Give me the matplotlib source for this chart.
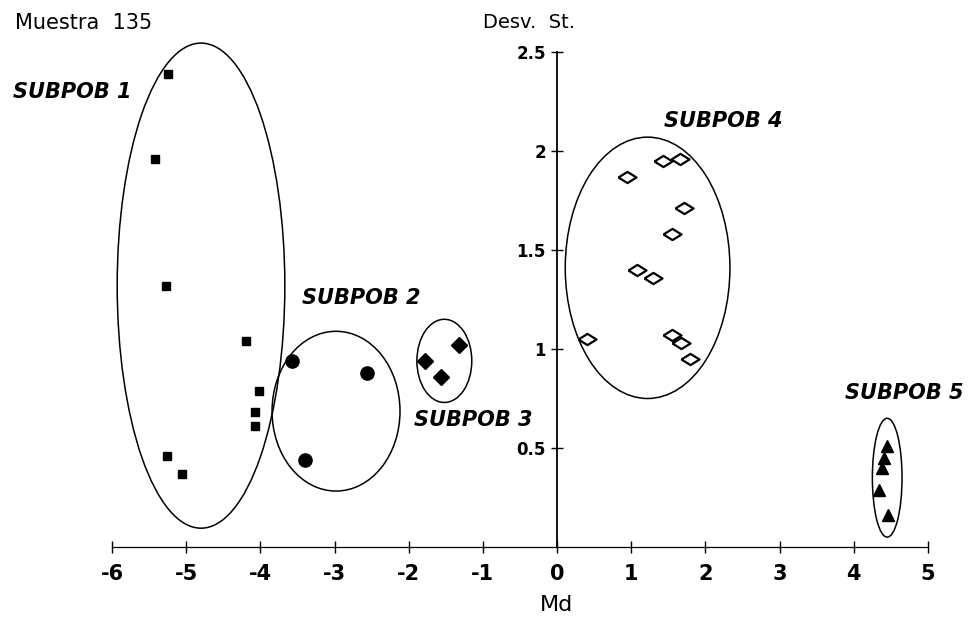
import matplotlib
matplotlib.use("Agg")
import matplotlib.pyplot as plt
from matplotlib.patches import Ellipse

# ---- data (Md, Desv. St.) ----
sub1_md = [-5.24, -5.42, -5.27, -4.20, -4.02, -4.07, -4.07, -5.26, -5.05]
sub1_sd = [2.39, 1.96, 1.32, 1.04, 0.79, 0.68, 0.61, 0.46, 0.37]

sub2_md = [-3.57, -2.56, -3.40]
sub2_sd = [0.94, 0.88, 0.44]

sub3_md = [-1.78, -1.32, -1.56]
sub3_sd = [0.94, 1.02, 0.86]

sub4_md = [0.94, 1.43, 1.66, 1.71, 1.55, 1.08, 1.29, 0.40, 1.55, 1.67, 1.79]
sub4_sd = [1.87, 1.95, 1.96, 1.71, 1.58, 1.40, 1.36, 1.05, 1.07, 1.03, 0.95]

sub5_md = [4.45, 4.41, 4.38, 4.34, 4.46]
sub5_sd = [0.51, 0.45, 0.40, 0.29, 0.16]

# ellipse (centre x, centre y, width, height) per subpopulation
ell_cx = [-4.80, -2.98, -1.52, 1.22, 4.45]
ell_cy = [1.32, 0.686, 0.94, 1.41, 0.35]
ell_w = [2.26, 1.725, 0.74, 2.22, 0.40]
ell_h = [2.45, 0.807, 0.42, 1.32, 0.60]

labels = ["SUBPOB 1", "SUBPOB 2", "SUBPOB 3", "SUBPOB 4", "SUBPOB 5"]
label_x = [-7.34, -3.44, -1.93, 1.44, 3.88]
label_y = [2.30, 1.256, 0.64, 2.15, 0.78]

xticks = [-6, -5, -4, -3, -2, -1, 0, 1, 2, 3, 4, 5]
yticks = [0.5, 1, 1.5, 2, 2.5]
ytick_labels = ["0.5", "1", "1.5", "2", "2.5"]

W, H = 973, 631
fig = plt.figure(figsize=(W / 100, H / 100), dpi=100)
fig.patch.set_facecolor("white")

# axes placed so that x=-6..5 -> px 112..928 and y=0..2.5 -> px 547..52
ax = fig.add_axes([112 / W, 1 - 547 / H, (928 - 112) / W, (547 - 52) / H])
ax.set_xlim(-6, 5)
ax.set_ylim(0, 2.5)
ax.patch.set_alpha(0)

for s in ["top", "right"]:
    ax.spines[s].set_visible(False)
ax.spines["left"].set_position(("data", 0))
ax.spines["bottom"].set_position(("data", 0))
ax.spines["left"].set_linewidth(1.3)
ax.spines["bottom"].set_linewidth(0.9)

ax.set_xticks(xticks)
ax.set_xticklabels([str(t) for t in xticks])
ax.set_yticks(yticks)
ax.set_yticklabels(ytick_labels)
ax.tick_params(axis="x", direction="inout", length=9, width=1.0, pad=8,
               labelsize=15)
ax.tick_params(axis="y", direction="inout", length=8, width=1.0, pad=4,
               labelsize=12)
for lab in ax.get_xticklabels() + ax.get_yticklabels():
    lab.set_fontweight("bold")

# markers
ax.plot(sub1_md, sub1_sd, "s", color="black", ms=6, clip_on=False)
ax.plot(sub2_md, sub2_sd, "o", color="black", ms=9.5, clip_on=False)
ax.plot(sub3_md, sub3_sd, "D", color="black", ms=8, clip_on=False)
flat_diamond = [(-1, 0), (0, 0.62), (1, 0), (0, -0.62), (-1, 0)]
ax.plot(sub4_md, sub4_sd, linestyle="none", marker=flat_diamond, ms=13,
        mfc="white", mec="black", mew=1.6, clip_on=False)
ax.plot(sub5_md, sub5_sd, "^", color="black", ms=8, clip_on=False)

# ellipses
for cx, cy, w, h in zip(ell_cx, ell_cy, ell_w, ell_h):
    ax.add_patch(Ellipse((cx, cy), w, h, fill=False, edgecolor="black",
                         linewidth=1.1, clip_on=False))

# subpopulation labels
for txt, lx, ly in zip(labels, label_x, label_y):
    ax.text(lx, ly, txt, fontsize=15, fontweight="bold", style="italic",
            ha="left", va="center", clip_on=False)

fig.text(15 / W, 1 - 23 / H, "Muestra  135", fontsize=15, ha="left",
         va="center")
fig.text(483 / W, 1 - 22 / H, "Desv.  St.", fontsize=14, ha="left",
         va="center")
fig.text(557 / W, 1 - 605 / H, "Md", fontsize=16, ha="center", va="center")

fig.savefig("out.png", dpi=100)
